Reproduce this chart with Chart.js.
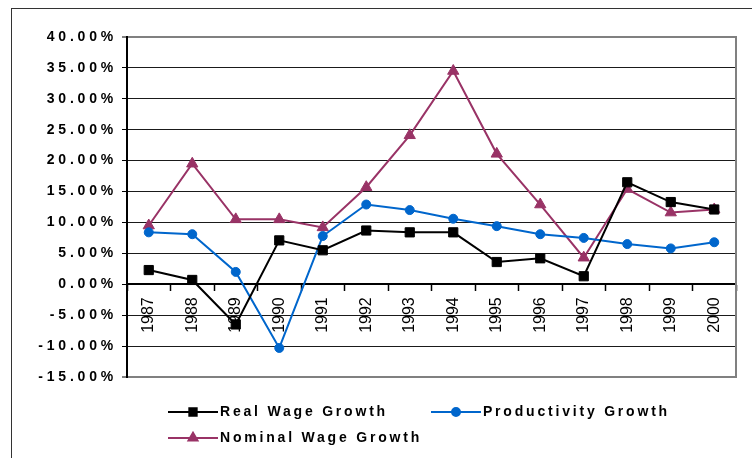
<!DOCTYPE html>
<html>
<head>
<meta charset="utf-8">
<script src="https://cdn.jsdelivr.net/npm/chart.js@4.4.0/dist/chart.umd.min.js"></script>
<style>
html,body{margin:0;padding:0;background:#fff;overflow:hidden;}
#wrap{position:relative;width:752px;height:458px;overflow:hidden;}
#frame{position:absolute;left:11px;top:8px;width:800px;height:500px;border:1px solid #333;pointer-events:none;box-sizing:border-box;}
canvas{position:absolute;left:0;top:0;}
</style>
</head>
<body>
<div id="wrap"><canvas id="c" width="752" height="458"></canvas><div id="frame"></div></div>
<script>
// ---- data ----
const years = ['1987','1988','1989','1990','1991','1992','1993','1994','1995','1996','1997','1998','1999','2000'];
const realWageGrowth = [2.3, 0.7, -6.5, 7.1, 5.5, 8.7, 8.4, 8.4, 3.6, 4.2, 1.3, 16.5, 13.3, 12.1];
const productivityGrowth = [8.4, 8.1, 2.0, -10.3, 7.8, 12.9, 12.0, 10.6, 9.4, 8.1, 7.5, 6.5, 5.8, 6.8];
const nominalWageGrowth = [9.5, 19.5, 10.5, 10.5, 9.2, 15.7, 24.1, 34.5, 21.1, 12.9, 4.3, 15.4, 11.6, 12.1];
const seriesNames = ['Real Wage Growth', 'Productivity Growth', 'Nominal Wage Growth'];
const yMin = -15, yMax = 40, yStep = 5;
const formatPct = v => v.toFixed(2) + '%';

// ---- styles ----
const FONT = "'Liberation Sans', Arial, sans-serif";
const colors = ['#000000', '#0066CC', '#993366'];
const styles = ['rect', 'circle', 'triangle'];
const radii = [6.5, 4.5, 6.5];

function makeLegendIcon(color, style) {
  const c = document.createElement('canvas');
  c.width = 86; c.height = 14;
  const g = c.getContext('2d');
  g.strokeStyle = color; g.fillStyle = color; g.lineWidth = 2;
  g.beginPath(); g.moveTo(36, 7); g.lineTo(86, 7); g.stroke();
  Chart.helpers.drawPoint(g, {pointStyle: style, radius: style === 'circle' ? 4 : 5.2, rotation: 0, borderWidth: 1}, 61, 7);
  return c;
}

const excelLook = {
  id: 'excelLook',
  beforeLayout(chart) {
    const lg = chart.legend;
    if (lg && !lg._patched) {
      lg._patched = true;
      const origFit = lg.fit;
      lg.fit = function () { origFit.call(this); this.height = 81; };
      const origDraw = lg.draw;
      lg.draw = function (a) {
        const c = this.ctx; c.save(); c.letterSpacing = '2.8px'; origDraw.call(this, a); c.restore();
      };
    }
    const ys = chart.scales.y;
    if (ys && !ys._patched) {
      ys._patched = true;
      const origLabels = ys.drawLabels;
      ys.drawLabels = function (a) {
        const c = this.ctx; c.save(); c.letterSpacing = '3.8px'; origLabels.call(this, a); c.restore();
      };
    }
  },
  afterLayout(chart) {
    const ca = chart.chartArea, lg = chart.legend;
    if (lg) {
      lg.left = ca.left - 2;
      lg.right = ca.right + 4;
      lg.top = ca.bottom + 16;
      lg.bottom = lg.top + 60;
    }
  },
  beforeDatasetsDraw(chart) {
    const {ctx, chartArea: ca} = chart;
    ctx.save();
    ctx.strokeStyle = '#808080';
    ctx.lineWidth = 2;
    ctx.beginPath();
    ctx.moveTo(ca.right, ca.top - 1);
    ctx.lineTo(ca.right, ca.bottom + 1);
    ctx.stroke();
    ctx.restore();
  }
};

const seriesData = [realWageGrowth, productivityGrowth, nominalWageGrowth];
const datasets = seriesData.map((d, i) => ({
  label: seriesNames[i],
  data: d,
  borderColor: colors[i],
  backgroundColor: colors[i],
  borderWidth: 2,
  pointStyle: styles[i],
  pointRadius: radii[i],
  pointBorderWidth: 1,
  pointBorderColor: colors[i],
  pointBackgroundColor: colors[i],
  tension: 0,
  fill: false
}));

const icons = colors.map((c, i) => makeLegendIcon(c, styles[i]));

new Chart(document.getElementById('c'), {
  type: 'line',
  data: {labels: years, datasets},
  options: {
    responsive: false,
    devicePixelRatio: 1,
    animation: false,
    events: [],
    layout: {padding: {top: 37, right: 16, left: 0, bottom: 0}},
    plugins: {
      tooltip: {enabled: false},
      title: {display: false},
      legend: {
        display: true,
        position: 'bottom',
        align: 'start',
        labels: {
          usePointStyle: true,
          pointStyleWidth: 76,
          padding: 12,
          color: '#000',
          font: {family: FONT, size: 14, weight: 'bold'},
          generateLabels(chart) {
            const items = Chart.defaults.plugins.legend.labels.generateLabels(chart);
            items.forEach(it => { it.pointStyle = icons[it.datasetIndex]; });
            return items;
          }
        }
      }
    },
    scales: {
      x: {
        type: 'category',
        position: {y: 0},
        offset: true,
        grid: {
          offset: true,
          drawOnChartArea: false,
          drawTicks: true,
          tickLength: 6,
          tickColor: '#000',
          tickWidth: 1.5,
          color: '#000'
        },
        border: {display: true, color: '#000', width: 2},
        ticks: {
          minRotation: 90,
          maxRotation: 90,
          autoSkip: false,
          padding: 7,
          color: '#000',
          font: {family: FONT, size: 16}
        }
      },
      y: {
        min: yMin,
        max: yMax,
        afterFit(scale) { scale.width = 127; },
        grid: {
          drawTicks: true,
          tickLength: 5,
          tickColor: '#000',
          tickWidth: 1,
          color: ctx => (ctx.tick && (ctx.tick.value === yMax || ctx.tick.value === yMin)) ? '#808080' : '#1a1a1a',
          lineWidth: ctx => (ctx.tick && (ctx.tick.value === yMax || ctx.tick.value === yMin)) ? 2 : 1
        },
        border: {display: true, color: '#000', width: 2},
        ticks: {
          stepSize: yStep,
          padding: 5,
          color: '#000',
          font: {family: FONT, size: 14, weight: 'bold'},
          callback: v => formatPct(v)
        }
      }
    }
  },
  plugins: [excelLook]
});
</script>
</body>
</html>
